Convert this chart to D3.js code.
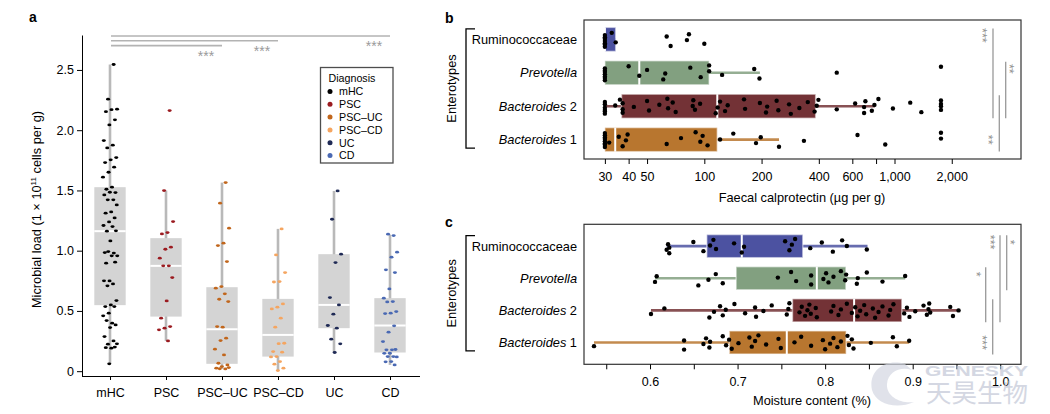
<!DOCTYPE html>
<html>
<head>
<meta charset="utf-8">
<script src="https://cdn.jsdelivr.net/npm/d3@7"></script>
<style>
  body { margin: 0; background: #fff; }
  svg { font-family: "Liberation Sans", Arial, sans-serif; }
</style>
</head>
<body>
<svg id="canvas"></svg>
<script>
// ---------- panel a: microbial load by diagnosis ----------
const diagnoses = ["mHC", "PSC", "PSC–UC", "PSC–CD", "UC", "CD"];
const diagnosisColors = ["#000000", "#9b1b20", "#c1661c", "#f5a560", "#1f2a55", "#4a69b3"];

const loadMHC = [2.545, 2.257, 2.174, 2.17, 2.154, 2.086, 2.044, 1.914, 1.876, 1.853, 1.773, 1.754,
  1.731, 1.693, 1.651, 1.61, 1.527, 1.51, 1.482, 1.485, 1.463, 1.422, 1.422, 1.38, 1.322, 1.311,
  1.272, 1.239, 1.209, 1.2, 1.162, 1.165, 1.081, 0.984, 0.98, 0.993, 0.957, 0.957, 0.896, 0.905,
  0.749, 0.75, 0.724, 0.708, 0.586, 0.55, 0.536, 0.536, 0.481, 0.459, 0.398, 0.42, 0.384, 0.362,
  0.287, 0.251, 0.224, 0.227, 0.191, 0.195, 0.2, 0.061];
const loadPSC = [2.163, 1.499, 1.242, 1.15, 1.139, 1.029, 1.012, 0.938, 0.874, 0.874, 0.777, 0.583,
  0.44, 0.37, 0.357, 0.343, 0.251];
const loadPSCUC = [1.565, 1.394, 1.187, 1.062, 1.042, 0.91, 0.702, 0.689, 0.642, 0.597, 0.578, 0.365,
  0.37, 0.274, 0.254, 0.183, 0.135, 0.066, 0.052, 0.038, 0.025, 0.019, 0.02, 0.03];
const loadPSCCD = [1.181, 0.965, 0.818, 0.744, 0.74, 0.558, 0.531, 0.517, 0.44, 0.365, 0.232, 0.228,
  0.163, 0.158, 0.121, 0.118, 0.08, 0.058, 0.025, 0.005];
const loadUC = [1.496, 1.261, 0.971, 0.901, 0.611, 0.55, 0.473, 0.379, 0.357, 0.266, 0.227, 0.155];
const loadCD = [1.125, 1.137, 0.988, 0.946, 0.841, 0.818, 0.683, 0.606, 0.578, 0.575, 0.495, 0.481,
  0.478, 0.376, 0.324, 0.246, 0.177, 0.177, 0.18, 0.149, 0.148, 0.121, 0.121, 0.118, 0.08, 0.078, 0.052];
const loadPoints = [loadMHC, loadPSC, loadPSCUC, loadPSCCD, loadUC, loadCD];

const loadWhiskerLow = [0.06, 0.251, 0.019, 0.005, 0.155, 0.052];
const loadQ1 = [0.548, 0.453, 0.061, 0.121, 0.357, 0.155];
const loadMedian = [1.162, 0.874, 0.348, 0.301, 0.55, 0.379];
const loadQ3 = [1.527, 1.104, 0.697, 0.6, 0.971, 0.606];
const loadWhiskerHigh = [2.545, 1.499, 1.565, 1.181, 1.496, 1.131];
const loadTicks = [0, 0.5, 1.0, 1.5, 2.0, 2.5];

// comparisons against mHC (shortest bracket listed first)
const loadSignif = [
  { to: "PSC–UC", label: "***" },
  { to: "PSC–CD", label: "***" },
  { to: "CD", label: "***" }
];

// ---------- panels b and c: enterotypes ----------
const enterotypes = ["Ruminococcaceae", "Prevotella", "Bacteroides 2", "Bacteroides 1"];
const enterotypeColors = ["#4c52a1", "#82a080", "#733236", "#b8762f"];

const calproRumino = [30, 30, 30, 30, 30, 30, 30, 32.6, 34.2, 63.4, 66.5, 81, 83, 100];
const calproPrevotella = [30, 30, 30, 30, 30, 30, 30, 40, 45.5, 50, 60.8, 62.3, 84.4, 95.7, 106, 106,
  124, 183, 195, 497, 1755];
const calproBact2 = [30, 30, 30, 30, 30, 30, 34, 36, 37.2, 37.2, 37.2, 42.6, 50, 51.2, 58, 63.9, 64.5,
  68.2, 70.7, 86.9, 87.5, 89.3, 95, 114.8, 117.5, 121, 128.5, 132.7, 161.7, 163.8, 196, 211, 214, 240,
  245, 279, 285, 316, 350, 380, 390, 398, 497, 621, 692, 692, 703, 760, 784, 823, 981, 1210, 1384,
  1755, 1755, 1755, 1755];
const calproBact1 = [30, 30, 30, 30, 30, 30, 30, 30, 31.6, 35.5, 37.2, 38.7, 39.5, 63.4, 75.4, 90, 95.3,
  98, 104, 121, 142, 187, 198, 247, 334, 639, 894, 1755, 1755];
const calproPoints = [calproRumino, calproPrevotella, calproBact2, calproBact1];

const calproWhiskerLow = [30, 30, 30, 30];
const calproQ1 = [30, 30, 36.7, 30];
const calproMedian = [30, 45.5, 117, 34];
const calproQ3 = [34.2, 106, 385, 117];
const calproWhiskerHigh = [34.2, 196, 790, 247];
const calproTicks = [30, 40, 50, 100, 200, 400, 600, 800, 1000, 2000];
const calproTickLabels = ["30", "40", "50", "100", "200", "400", "600", "", "1,000", "2,000"];

const moistRumino = [0.619, 0.6206, 0.622, 0.622, 0.6495, 0.661, 0.6686, 0.6724, 0.6754, 0.696, 0.7048,
  0.7074, 0.7543, 0.7592, 0.762, 0.7657, 0.783, 0.7962, 0.8088, 0.8248, 0.8194, 0.8476];
const moistPrevotella = [0.6057, 0.6076, 0.6552, 0.6667, 0.6751, 0.6831, 0.746, 0.7611, 0.7669, 0.784,
  0.784, 0.798, 0.8011, 0.8038, 0.8095, 0.818, 0.8229, 0.824, 0.8362, 0.8373, 0.8476, 0.8655, 0.8914];
const moistBact2 = [0.6011, 0.6164, 0.6678, 0.6731, 0.68, 0.6831, 0.6865, 0.6964, 0.7086, 0.72, 0.7211,
  0.7295, 0.739, 0.7562, 0.758, 0.7592, 0.7707, 0.7733, 0.7771, 0.7798, 0.782, 0.7836, 0.7893,
  0.7905, 0.8069, 0.8095, 0.8152, 0.818, 0.8248, 0.8305, 0.8343, 0.837, 0.84, 0.8446, 0.8469, 0.8545,
  0.8571, 0.861, 0.8655, 0.8724, 0.8743, 0.878, 0.8903, 0.8934, 0.8963, 0.9029, 0.9124, 0.9162, 0.918,
  0.9189, 0.92, 0.9429, 0.946, 0.9524];
const moistBact1 = [0.536, 0.6389, 0.6389, 0.661, 0.664, 0.6678, 0.6686, 0.6831, 0.6869, 0.6903, 0.6933,
  0.701, 0.7135, 0.7162, 0.72, 0.7238, 0.7326, 0.7467, 0.7494, 0.765, 0.7726, 0.784, 0.7974, 0.8,
  0.8057, 0.8095, 0.814, 0.818, 0.8255, 0.8271, 0.8305, 0.8324, 0.8522, 0.8774, 0.8819, 0.896];
const moistPoints = [moistRumino, moistPrevotella, moistBact2, moistBact1];

const moistWhiskerLow = [0.619, 0.6057, 0.6011, 0.536];
const moistQ1 = [0.6648, 0.6983, 0.7627, 0.6906];
const moistMedian = [0.7048, 0.7905, 0.8331, 0.7562];
const moistQ3 = [0.7745, 0.8237, 0.8876, 0.824];
const moistWhiskerHigh = [0.8484, 0.8914, 0.9512, 0.896];
const moistTicks = [0.55, 0.6, 0.65, 0.7, 0.75, 0.8, 0.85, 0.9, 0.95, 1.0];

const calproSignif = [
  { from: "Ruminococcaceae", to: "Bacteroides 2", label: "***", at: "from" },
  { from: "Prevotella", to: "Bacteroides 2", label: "**", at: "from" },
  { from: "Bacteroides 2", to: "Bacteroides 1", label: "**", at: "to" }
];
const moistSignif = [
  { from: "Ruminococcaceae", to: "Prevotella", label: "*", at: "from" },
  { from: "Ruminococcaceae", to: "Bacteroides 2", label: "***", at: "from" },
  { from: "Prevotella", to: "Bacteroides 2", label: "*", at: "from" },
  { from: "Bacteroides 2", to: "Bacteroides 1", label: "***", at: "to" }
];

// ---------- drawing ----------
const width = 1050;
const height = 414;
const svg = d3.select("#canvas").attr("width", width).attr("height", height);

// simple deterministic spread for overplotted points
const jitter = (i) => (((i + 1) * 0.618034 + 0.13) % 1) - 0.5;

function panelLabel(text, x, y) {
  svg.append("text").attr("x", x).attr("y", y)
    .attr("font-size", 14).attr("font-weight", "bold").text(text);
}

function styleAxis(g, size) {
  g.selectAll("text").attr("font-size", size).attr("fill", "#000")
    .attr("font-family", "Liberation Sans, Arial, sans-serif");
  g.selectAll("line").attr("stroke", "#000");
  g.select(".domain").attr("stroke", "#000");
}

// ===== panel a =====
const aLeft = 82, aRight = 418, aTop = 35, aBottom = 376;
const xA = d3.scalePoint().domain(diagnoses).range([aLeft, aRight]).padding(0.5);
const yA = d3.scaleLinear().domain([-0.04, 2.79]).range([aBottom, aTop]);
const boxW = xA.step() * 0.56;

panelLabel("a", 29, 22);

const aAxisY = svg.append("g").attr("transform", `translate(${aLeft},0)`)
  .call(d3.axisLeft(yA).tickValues(loadTicks).tickSize(5).tickSizeOuter(0).tickPadding(3)
    .tickFormat(d => d === 0 ? "0" : d3.format(".1f")(d)));
styleAxis(aAxisY, 12.5);

const aAxisX = svg.append("g").attr("transform", `translate(0,${aBottom})`)
  .call(d3.axisBottom(xA).tickSize(4).tickSizeOuter(0).tickPadding(8));
styleAxis(aAxisX, 12.5);
aAxisX.select(".domain").attr("d", `M${aLeft},0.5H${aRight + 2}`);

svg.append("text")
  .attr("transform", `translate(41,${(aTop + aBottom) / 2 + 4}) rotate(-90)`)
  .attr("text-anchor", "middle").attr("font-size", 12.8)
  .call(t => {
    t.append("tspan").text("Microbial load (1 × 10");
    t.append("tspan").attr("font-size", 8).attr("dy", -5).text("11");
    t.append("tspan").attr("dy", 5).text(" cells per g)");
  });

const aBoxes = svg.append("g");
diagnoses.forEach((d, i) => {
  const cx = xA(d);
  aBoxes.append("line")
    .attr("x1", cx).attr("x2", cx)
    .attr("y1", yA(loadWhiskerLow[i])).attr("y2", yA(loadWhiskerHigh[i]))
    .attr("stroke", "#b9b9b9").attr("stroke-width", 2.6);
  aBoxes.append("rect")
    .attr("x", cx - boxW / 2).attr("width", boxW)
    .attr("y", yA(loadQ3[i])).attr("height", yA(loadQ1[i]) - yA(loadQ3[i]))
    .attr("fill", "#d4d4d4");
  aBoxes.append("line")
    .attr("x1", cx - boxW / 2).attr("x2", cx + boxW / 2)
    .attr("y1", yA(loadMedian[i])).attr("y2", yA(loadMedian[i]))
    .attr("stroke", "#fff").attr("stroke-width", 2);
});

diagnoses.forEach((d, i) => {
  svg.append("g").selectAll("ellipse")
    .data(loadPoints[i])
    .enter()
    .append("ellipse")
    .attr("cx", (v, j) => xA(d) + jitter(j) * xA.step() * 0.26)
    .attr("cy", v => yA(v))
    .attr("rx", 2).attr("ry", 1.4)
    .attr("fill", diagnosisColors[i]);
});

// significance brackets: shortest lowest, longest on top
const sigTop = 36, sigGap = 4.8;
const nSig = loadSignif.length;
loadSignif.forEach((s, k) => {
  const ly = sigTop + (nSig - 1 - k) * sigGap;
  const longest = k === nSig - 1;
  svg.append("line")
    .attr("x1", xA("mHC") + 1).attr("x2", xA(s.to))
    .attr("y1", ly).attr("y2", ly)
    .attr("stroke", longest ? "#8c8c8c" : "#b3b3b3")
    .attr("stroke-width", longest ? 1 : 1.6);
  // star label just left of the bracket end, below it
  svg.append("text")
    .attr("x", xA(s.to) - 16).attr("y", ly + 15)
    .attr("text-anchor", "middle").attr("font-size", 14).attr("fill", "#9a9a9a")
    .text(s.label);
});

// legend
const legend = svg.append("g").attr("transform", "translate(320.5,67.5)");
legend.append("rect").attr("width", 72.5).attr("height", 95.5)
  .attr("fill", "#fff").attr("stroke", "#4d4d4d").attr("stroke-width", 1.3);
legend.append("text").attr("x", 8).attr("y", 14.5).attr("font-size", 10.7).text("Diagnosis");
diagnoses.forEach((d, i) => {
  const ly = 24 + i * 12.8;
  legend.append("circle").attr("cx", 9.5).attr("cy", ly).attr("r", 2.5).attr("fill", diagnosisColors[i]);
  legend.append("text").attr("x", 18.5).attr("y", ly + 3.9).attr("font-size", 10.7).text(d);
});

// ===== panels b and c (shared horizontal boxplot layout) =====
const hLeft = 584, hRight = 1021;

function rowLabel(g, name, x, y) {
  const t = g.append("text").attr("x", x).attr("y", y).attr("text-anchor", "end").attr("font-size", 12.8);
  if (name === "Ruminococcaceae") {
    t.text(name);
  } else if (name === "Prevotella") {
    t.attr("font-style", "italic").text(name);
  } else {
    const parts = name.split(" ");
    t.append("tspan").attr("font-style", "italic").text(parts[0]);
    t.append("tspan").text(" " + parts[1]);
  }
}

function drawHorizontalPanel(opts) {
  const { top, bottom, x, rowPad, points, lo, q1, med, q3, hi, signif, sigX } = opts;
  const y = d3.scalePoint().domain(enterotypes).range([top, bottom]).padding(rowPad);
  const g = svg.append("g");
  const boxH = y.step() * 0.72;

  // row labels + enterotype bracket
  enterotypes.forEach(e => rowLabel(g, e, 577, y(e) + 4.5));
  const bTop = y(enterotypes[0]) - 10.5;
  const bBot = y(enterotypes[enterotypes.length - 1]) + 8.5;
  g.append("path").attr("d", `M475,${bTop}H466V${bBot}H475`)
    .attr("fill", "none").attr("stroke", "#000").attr("stroke-width", 1.3);
  g.append("text")
    .attr("transform", `translate(456,${(bTop + bBot) / 2}) rotate(-90)`)
    .attr("text-anchor", "middle").attr("font-size", 12.8).text("Enterotypes");

  enterotypes.forEach((e, i) => {
    const cy = y(e);
    const col = enterotypeColors[i];
    g.append("line")
      .attr("x1", x(lo[i])).attr("x2", x(hi[i]))
      .attr("y1", cy).attr("y2", cy)
      .attr("stroke", col).attr("stroke-width", 2.6).attr("stroke-opacity", 0.85);
    g.append("rect")
      .attr("x", x(q1[i])).attr("width", x(q3[i]) - x(q1[i]))
      .attr("y", cy - boxH / 2).attr("height", boxH)
      .attr("fill", col).attr("stroke", "#fff").attr("stroke-opacity", 0.5).attr("stroke-width", 1.5);
    g.append("line")
      .attr("x1", x(med[i])).attr("x2", x(med[i]))
      .attr("y1", cy - boxH / 2).attr("y2", cy + boxH / 2)
      .attr("stroke", "#fff").attr("stroke-width", 2);
  });

  enterotypes.forEach((e, i) => {
    g.append("g").selectAll("circle")
      .data(points[i])
      .enter()
      .append("circle")
      .attr("cx", v => x(v))
      .attr("cy", (v, j) => y(e) + jitter(j) * y.step() * 0.46)
      .attr("r", 2.2)
      .attr("fill", "#000");
  });

  g.append("rect")
    .attr("x", hLeft).attr("y", top)
    .attr("width", hRight - hLeft).attr("height", bottom - top)
    .attr("fill", "none").attr("stroke", "#333").attr("stroke-width", 1.2);

  signif.forEach((s, k) => {
    const lx = hRight + sigX[k][0];
    const y1 = y(s.from) - 11, y2 = y(s.to) + 12;
    g.append("line").attr("x1", lx).attr("x2", lx).attr("y1", y1).attr("y2", y2)
      .attr("stroke", "#999").attr("stroke-width", 1.3);
    const sy = s.at === "from" ? y(s.from) - 4 : y(s.to);
    g.append("text")
      .attr("transform", `translate(${hRight + sigX[k][1]},${sy}) rotate(90)`)
      .attr("text-anchor", "middle").attr("y", 7).attr("font-size", 12.5).attr("fill", "#8f8f8f")
      .text(s.label);
  });
  return y;
}

// ----- panel b -----
panelLabel("b", 445, 23);
const bTop = 20, bBottom = 159;
const xB = d3.scaleLog().domain([23.3, 4625]).range([hLeft, hRight]);
drawHorizontalPanel({
  top: bTop, bottom: bBottom, x: xB, rowPad: 0.58,
  points: calproPoints, lo: calproWhiskerLow, q1: calproQ1, med: calproMedian, q3: calproQ3, hi: calproWhiskerHigh,
  signif: calproSignif,
  sigX: [[-28, -35.7], [-15.3, -9], [-21.7, -30.3]]
});
const bAxis = svg.append("g").attr("transform", `translate(0,${bBottom})`)
  .call(d3.axisBottom(xB).tickValues(calproTicks).tickSize(5).tickSizeOuter(0).tickPadding(8)
    .tickFormat((d, i) => calproTickLabels[i]));
styleAxis(bAxis, 12.5);
bAxis.select(".domain").remove();
svg.append("text").attr("x", 802).attr("y", 202).attr("text-anchor", "middle")
  .attr("font-size", 12.8).text("Faecal calprotectin (µg per g)");

// ----- panel c -----
panelLabel("c", 445, 227);
const cTop = 224.3, cBottom = 364.3;
const xC = d3.scaleLinear().domain([0.5246, 1.0237]).range([hLeft, hRight]);
drawHorizontalPanel({
  top: cTop, bottom: cBottom, x: xC, rowPad: 0.68,
  points: moistPoints, lo: moistWhiskerLow, q1: moistQ1, med: moistMedian, q3: moistQ3, hi: moistWhiskerHigh,
  signif: moistSignif,
  sigX: [[-14.3, -8.3], [-21, -28.3], [-35.3, -41.7], [-28.3, -36]]
});
const cAxis = svg.append("g").attr("transform", `translate(0,${cBottom})`)
  .call(d3.axisBottom(xC).tickValues(moistTicks).tickSize(5).tickSizeOuter(0).tickPadding(8)
    .tickFormat(d => Math.round(d * 100) % 10 === 0 ? d3.format(".1f")(d) : ""));
styleAxis(cAxis, 12.5);
cAxis.select(".domain").remove();
svg.append("text").attr("x", 812).attr("y", 405).attr("text-anchor", "middle")
  .attr("font-size", 12.8).text("Moisture content (%)");

// ----- watermark -----
const wm = svg.append("g").attr("opacity", 0.7);
wm.append("path")
  .attr("d", "M905,364 C884,358 868,372 872,390 C876,404 896,410 914,402 C900,404 886,396 887,384 C888,372 900,366 912,370 Z")
  .attr("fill", "#d3d7e2");
wm.append("text").attr("x", 925).attr("y", 375.5).attr("font-size", 15).attr("font-weight", "bold")
  .attr("fill", "#c2c7d6").attr("textLength", 103).attr("lengthAdjust", "spacingAndGlyphs").text("GENESKY");
wm.append("text").attr("x", 926).attr("y", 402).attr("font-size", 25.5)
  .attr("font-family", "Noto Sans CJK SC").attr("fill", "#c2c7d6").text("天昊生物");
</script>
</body>
</html>
